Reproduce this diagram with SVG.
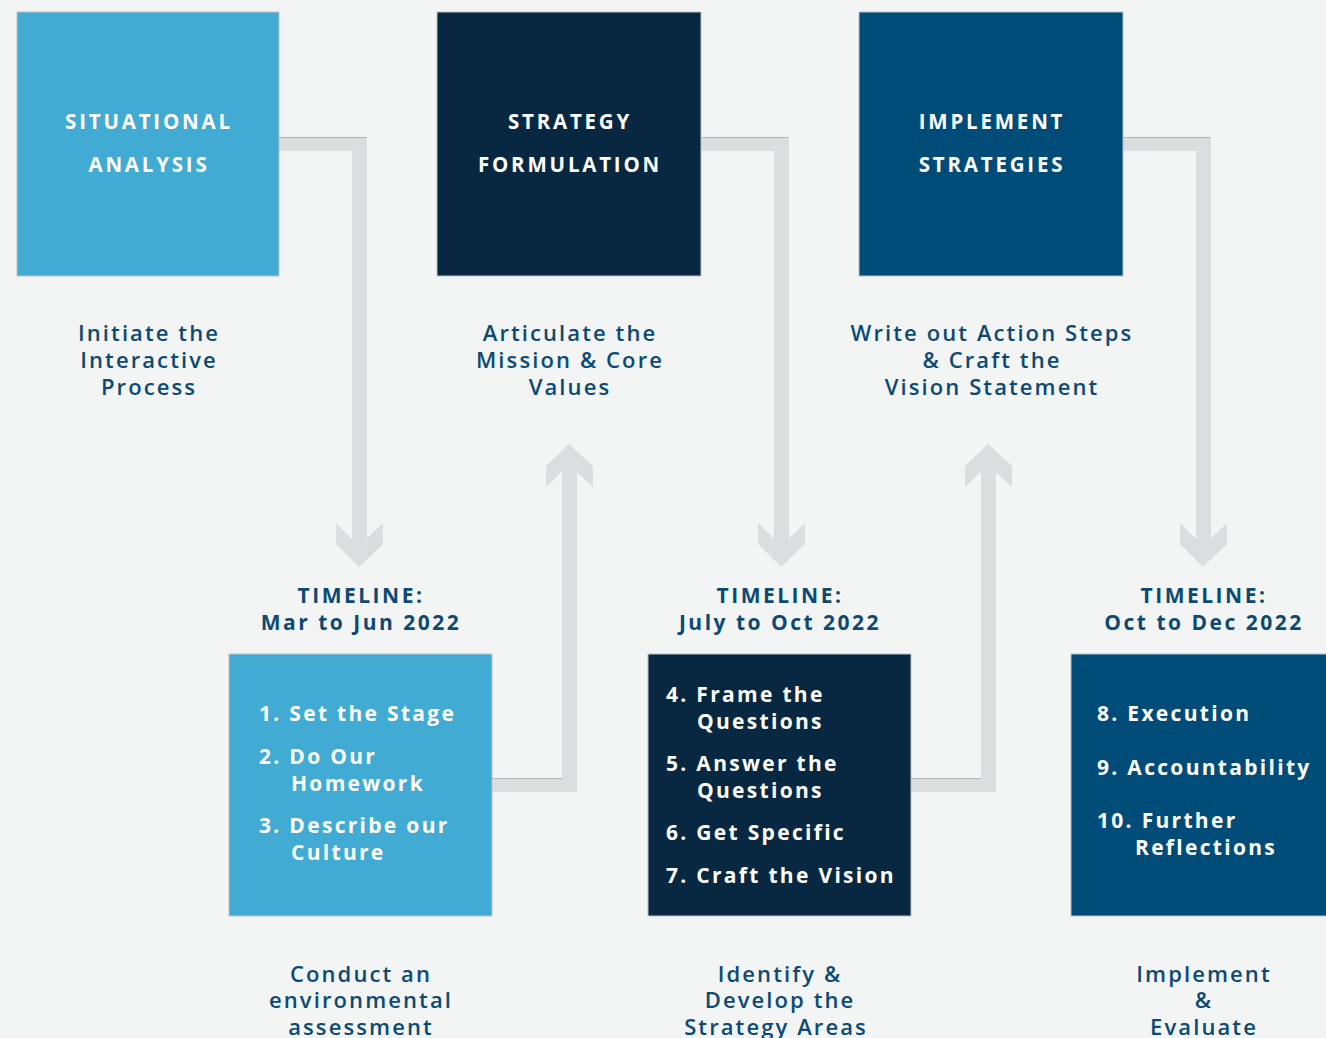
<svg xmlns="http://www.w3.org/2000/svg" width="1326" height="1038" viewBox="0 0 1326 1038">
  <style>
    .bg { fill: #f3f4f4; }
    .box { stroke: #b9c0c6; stroke-width: 1; }
    .light { fill: #41abd3; }
    .navy { fill: #082842; }
    .mid { fill: #004c79; }
    .title { font-family: "Open Sans", "Liberation Sans", sans-serif; font-weight: 700; font-size: 20.5px; fill: #ffffff; letter-spacing: 2.8px; text-anchor: middle; }
    .item { font-family: "Open Sans", "Liberation Sans", sans-serif; font-weight: 700; font-size: 21px; fill: #ffffff; letter-spacing: 2.3px; }
    .desc { font-family: "Open Sans", "Liberation Sans", sans-serif; font-weight: 600; font-size: 22px; fill: #0c4a73; letter-spacing: 2.1px; text-anchor: middle; }
    .time { font-family: "Open Sans", "Liberation Sans", sans-serif; font-weight: 700; font-size: 21px; fill: #0c4a73; letter-spacing: 2.5px; text-anchor: middle; }
    .band { fill: #dcdddf; }
    .edge { stroke: #b4b6b9; stroke-width: 1; fill: none; }
  </style>

  <rect class="bg" x="0" y="0" width="1326" height="1038"/>

  <!-- connectors: elbow bands with chevron heads -->
  <g id="connectors">
    <!-- Situational Analysis down to timeline 1 -->
    <g id="c1">
      <rect class="band" x="279" y="137" width="88" height="14"/>
      <rect class="band" x="352" y="137" width="15" height="413"/>
      <polygon class="band" points="336,523 359,546 383,523 383,544 359,567 336,544"/>
      <path class="edge" d="M279,137.5 H366.5"/>
    </g>
    <!-- step box 1 up to Strategy Formulation text -->
    <g id="c2">
      <rect class="band" x="492" y="778" width="85" height="14"/>
      <rect class="band" x="562" y="462" width="15" height="330"/>
      <polygon class="band" points="546,466 569,444 593,466 593,487 569,465 546,487"/>
      <path class="edge" d="M492,778.5 H562"/>
    </g>
    <!-- Strategy Formulation down to timeline 2 -->
    <g id="c3">
      <rect class="band" x="701" y="137" width="88" height="14"/>
      <rect class="band" x="774" y="137" width="15" height="413"/>
      <polygon class="band" points="758,523 781,546 805,523 805,544 781,567 758,544"/>
      <path class="edge" d="M701,137.5 H788.5"/>
    </g>
    <!-- step box 2 up to Implement Strategies text -->
    <g id="c4">
      <rect class="band" x="911" y="778" width="85" height="14"/>
      <rect class="band" x="981" y="462" width="15" height="330"/>
      <polygon class="band" points="965,466 988,444 1012,466 1012,487 988,465 965,487"/>
      <path class="edge" d="M911,778.5 H981"/>
    </g>
    <!-- Implement Strategies down to timeline 3 -->
    <g id="c5">
      <rect class="band" x="1123" y="137" width="88" height="14"/>
      <rect class="band" x="1196" y="137" width="15" height="413"/>
      <polygon class="band" points="1180,523 1203,546 1227,523 1227,544 1203,567 1180,544"/>
      <path class="edge" d="M1123,137.5 H1210.5"/>
    </g>
  </g>

  <!-- phase heading boxes -->
  <g id="situational-analysis">
    <rect class="box light" x="17" y="12" width="262" height="264"/>
    <text class="title" x="149" y="129">SITUATIONAL</text>
    <text class="title" x="149" y="172">ANALYSIS</text>
  </g>
  <g id="strategy-formulation">
    <rect class="box navy" x="437" y="12" width="264" height="264"/>
    <text class="title" x="570" y="129">STRATEGY</text>
    <text class="title" x="570" y="172">FORMULATION</text>
  </g>
  <g id="implement-strategies">
    <rect class="box mid" x="859" y="12" width="264" height="264"/>
    <text class="title" x="992" y="129">IMPLEMENT</text>
    <text class="title" x="992" y="172">STRATEGIES</text>
  </g>

  <!-- phase descriptions -->
  <g id="desc-initiate">
    <text class="desc" x="149" y="341">Initiate the</text>
    <text class="desc" x="149" y="368">Interactive</text>
    <text class="desc" x="149" y="395">Process</text>
  </g>
  <g id="desc-articulate">
    <text class="desc" x="570" y="341">Articulate the</text>
    <text class="desc" x="570" y="368">Mission &amp; Core</text>
    <text class="desc" x="570" y="395">Values</text>
  </g>
  <g id="desc-write">
    <text class="desc" x="992" y="341">Write out Action Steps</text>
    <text class="desc" x="992" y="368">&amp; Craft the</text>
    <text class="desc" x="992" y="395">Vision Statement</text>
  </g>

  <!-- timelines -->
  <g id="timeline-1">
    <text class="time" x="361" y="603">TIMELINE:</text>
    <text class="time" x="361" y="630">Mar to Jun 2022</text>
  </g>
  <g id="timeline-2">
    <text class="time" x="780" y="603">TIMELINE:</text>
    <text class="time" x="780" y="630">July to Oct 2022</text>
  </g>
  <g id="timeline-3">
    <text class="time" x="1204" y="603">TIMELINE:</text>
    <text class="time" x="1204" y="630">Oct to Dec 2022</text>
  </g>

  <!-- step boxes -->
  <g id="steps-1-3">
    <rect class="box light" x="229" y="654" width="263" height="262"/>
    <text class="item" x="259" y="721">1. Set the Stage</text>
    <text class="item" x="259" y="764">2. Do Our</text>
    <text class="item" x="291" y="791">Homework</text>
    <text class="item" x="259" y="833">3. Describe our</text>
    <text class="item" x="291" y="860">Culture</text>
  </g>
  <g id="steps-4-7">
    <rect class="box navy" x="648" y="654" width="263" height="262"/>
    <text class="item" x="666" y="702">4. Frame the</text>
    <text class="item" x="697" y="729">Questions</text>
    <text class="item" x="666" y="771">5. Answer the</text>
    <text class="item" x="697" y="798">Questions</text>
    <text class="item" x="666" y="840">6. Get Specific</text>
    <text class="item" x="666" y="883">7. Craft the Vision</text>
  </g>
  <g id="steps-8-10">
    <rect class="box mid" x="1071" y="654" width="262" height="262"/>
    <text class="item" x="1097" y="721">8. Execution</text>
    <text class="item" x="1097" y="775">9. Accountability</text>
    <text class="item" x="1097" y="828">10. Further</text>
    <text class="item" x="1135" y="855">Reflections</text>
  </g>

  <!-- step summaries -->
  <g id="desc-conduct">
    <text class="desc" x="361" y="982">Conduct an</text>
    <text class="desc" x="361" y="1008">environmental</text>
    <text class="desc" x="361" y="1035">assessment</text>
  </g>
  <g id="desc-identify">
    <text class="desc" x="780" y="982">Identify &amp;</text>
    <text class="desc" x="780" y="1008">Develop the</text>
    <text class="desc" x="776" y="1035">Strategy Areas</text>
  </g>
  <g id="desc-implement">
    <text class="desc" x="1204" y="982">Implement</text>
    <text class="desc" x="1204" y="1008">&amp;</text>
    <text class="desc" x="1204" y="1035">Evaluate</text>
  </g>
</svg>
